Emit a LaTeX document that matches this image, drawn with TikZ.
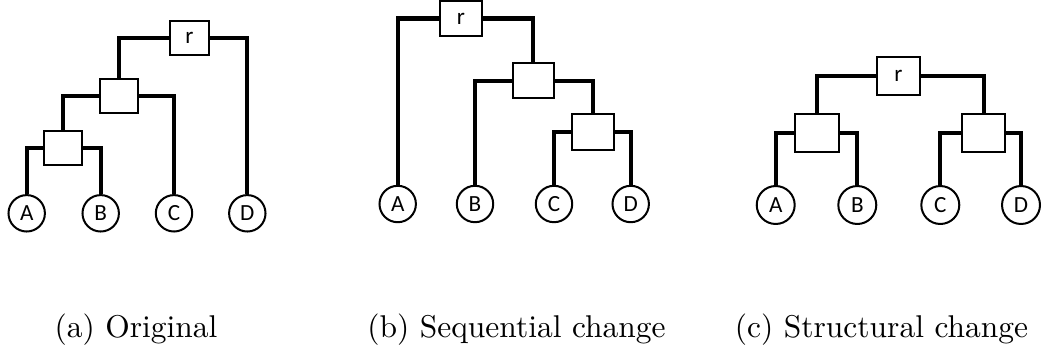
\documentclass[tikz,border=0pt]{standalone}
\usepackage{fontspec}
\newfontfamily\leaffont{Carlito}
\usepackage{tikz}
\tikzstyle{leaf} = [circle, minimum size=11.8pt, inner sep=0pt, draw=black, line width=0.65pt, fill=white, font=\leaffont\fontsize{7.5}{8}\selectfont]
\tikzstyle{inner} = [rectangle, minimum width=13.4pt, minimum height=11.4pt, inner sep=0pt, draw=black, line width=0.65pt, fill=white, font=\leaffont\fontsize{7.5}{8}\selectfont]
\tikzstyle{branch} = [line width=1.3pt]
\tikzstyle{caption} = [font=\fontsize{10.2}{12}\selectfont]

\begin{document}
\begin{tikzpicture}[x=0.324pt, y=-0.324pt]
	\useasboundingbox (0,0) rectangle (1042,354);
	% (a) original tree
	\node (ar) [inner, minimum width=12.6pt, minimum height=11pt] at (189.5,38) {r};
	\node (aabc) [inner, minimum width=12.6pt, minimum height=11pt] at (119,96) {};
	\node (aab) [inner, minimum width=12.6pt, minimum height=11pt] at (63,148) {};
	\node (aA) [leaf] at (26.7,213.3) {A};
	\node (aB) [leaf] at (100.7,213.3) {B};
	\node (aC) [leaf] at (174,213.3) {C};
	\node (aD) [leaf] at (247.3,213.3) {D};
	\draw [branch] (ar.west) -| (aabc.north);
	\draw [branch] (ar.east) -| (aD.north);
	\draw [branch] (aabc.west) -| (aab.north);
	\draw [branch] (aabc.east) -| (aC.north);
	\draw [branch] (aab.west) -| (aA.north);
	\draw [branch] (aab.east) -| (aB.north);
	
	% (b) sequential change
	\node (br) [inner] at (461,18.5) {r};
	\node (bbcd) [inner] at (533.3,80.7) {};
	\node (bcd) [inner] at (593,132) {};
	\node (bA) [leaf] at (397.7,204) {A};
	\node (bB) [leaf] at (475,204) {B};
	\node (bC) [leaf] at (554,204) {C};
	\node (bD) [leaf] at (630.7,204) {D};
	\draw [branch] (br.west) -| (bA.north);
	\draw [branch] (br.east) -| (bbcd.north);
	\draw [branch] (bbcd.west) -| (bB.north);
	\draw [branch] (bbcd.east) -| (bcd.north);
	\draw [branch] (bcd.west) -| (bC.north);
	\draw [branch] (bcd.east) -| (bD.north);
	
	% (c) structural change
	\node (cr) [inner, minimum width=14.2pt, minimum height=12pt] at (898.5,76) {r};
	\node (cab) [inner, minimum width=14.2pt, minimum height=12pt] at (816.7,133) {};
	\node (ccd) [inner, minimum width=14.2pt, minimum height=12pt] at (983.5,133) {};
	\node (cA) [leaf, minimum size=12.3pt] at (775.7,205) {A};
	\node (cB) [leaf, minimum size=12.3pt] at (857.3,205) {B};
	\node (cC) [leaf, minimum size=12.3pt] at (940.3,205) {C};
	\node (cD) [leaf, minimum size=12.3pt] at (1021,205) {D};
	\draw [branch] (cr.west) -| (cab.north);
	\draw [branch] (cr.east) -| (ccd.north);
	\draw [branch] (cab.west) -| (cA.north);
	\draw [branch] (cab.east) -| (cB.north);
	\draw [branch] (ccd.west) -| (cC.north);
	\draw [branch] (ccd.east) -| (cD.north);
	
	\node (capa) [caption] at (136,330) {(a) Original};
	\node (capb) [caption] at (516.5,330) {(b) Sequential change};
	\node (capc) [caption] at (881.5,330) {(c) Structural change};
\end{tikzpicture}
\end{document}
